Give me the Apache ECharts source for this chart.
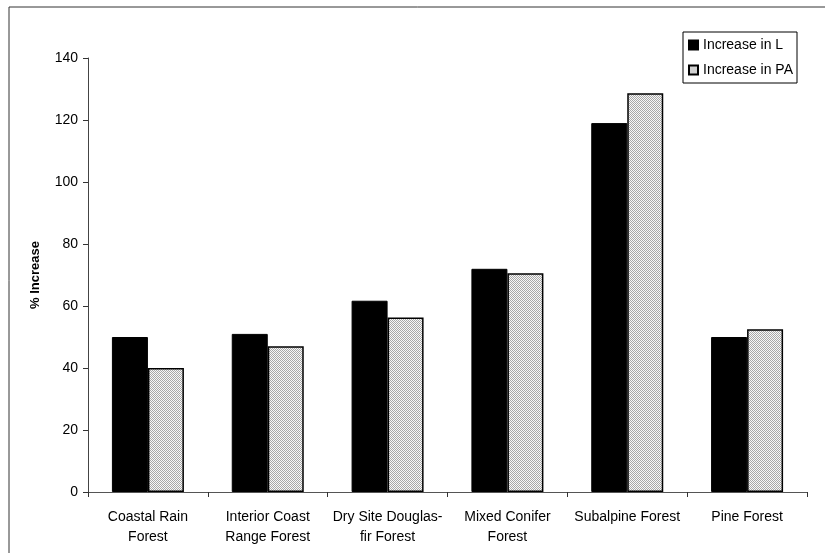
<!DOCTYPE html>
<html>
<head>
<meta charset="utf-8">
<script src="https://cdn.jsdelivr.net/npm/echarts@6/dist/echarts.min.js"></script>
<style>
  html, body { margin: 0; padding: 0; background: #fff; }
  #chart { width: 825px; height: 553px; }
</style>
</head>
<body>
<div id="chart"></div>
<script>
// Forest types along the x axis
const categories = [
  'Coastal Rain\nForest',
  'Interior Coast\nRange Forest',
  'Dry Site Douglas-\nfir Forest',
  'Mixed Conifer\nForest',
  'Subalpine Forest',
  'Pine Forest'
];
// Percent increase in L and in PA for each forest type
const increaseL  = [50, 51, 61.7, 72, 119, 50];
const increasePA = [40, 47, 56.3, 70.6, 128.6, 52.5];
const yTicks = [0, 20, 40, 60, 80, 100, 120, 140];

// Small dotted tile used as the fill of the PA bars
function dotPattern() {
  const c = document.createElement('canvas');
  c.width = 2; c.height = 2;
  const g = c.getContext('2d');
  g.fillStyle = '#f8f8f8';
  g.fillRect(0, 0, 2, 2);
  g.fillStyle = '#a8a8a8';
  g.fillRect(0, 0, 1, 1);
  g.fillRect(1, 1, 1, 1);
  return c;
}

const font = 'Liberation Sans, Arial, sans-serif';
const chart = echarts.init(document.getElementById('chart'), null, { renderer: 'canvas' });

chart.setOption({
  backgroundColor: '#fff',
  animation: false,
  graphic: [{
    type: 'rect',
    shape: { x: 9, y: 7, width: 830, height: 560 },
    style: { fill: 'none', stroke: '#333', lineWidth: 1 },
    silent: true,
    z: 0
  }],
  grid: { left: 88, right: 18, top: 58, bottom: 61, containLabel: false },
  legend: {
    orient: 'vertical',
    left: 683,
    top: 32,
    padding: [6, 4, 6, 5],
    itemGap: 11,
    itemWidth: 9,
    itemHeight: 9,
    icon: 'rect',
    backgroundColor: '#fff',
    borderColor: '#000',
    borderWidth: 1,
    textStyle: { fontFamily: font, fontSize: 14, color: '#000', padding: [0, 0, 0, 0] },
    data: ['Increase in L', 'Increase in PA']
  },
  xAxis: {
    type: 'category',
    data: categories,
    axisLine: { lineStyle: { color: '#555', width: 1 } },
    axisTick: { show: true, length: 5, lineStyle: { color: '#333' } },
    axisLabel: { fontFamily: font, fontSize: 14, color: '#000', lineHeight: 20, margin: 15, interval: 0 }
  },
  yAxis: {
    type: 'value',
    min: yTicks[0],
    max: yTicks[yTicks.length - 1],
    interval: 20,
    name: '% Increase',
    nameLocation: 'middle',
    nameGap: 46,
    nameTextStyle: { fontFamily: font, fontSize: 13, fontWeight: 'bold', color: '#000' },
    axisLine: { show: true, lineStyle: { color: '#444', width: 1 } },
    axisTick: { show: true, length: 5, lineStyle: { color: '#333' } },
    axisLabel: { fontFamily: font, fontSize: 14, color: '#000', margin: 10 },
    splitLine: { show: false }
  },
  series: [
    {
      name: 'Increase in L',
      type: 'bar',
      data: increaseL,
      barWidth: 36,
      barGap: '0%',
      itemStyle: { color: '#000', borderColor: '#000', borderWidth: 1 }
    },
    {
      name: 'Increase in PA',
      type: 'bar',
      data: increasePA,
      barWidth: 36,
      barGap: '0%',
      itemStyle: {
        color: { image: dotPattern(), repeat: 'repeat' },
        borderColor: '#000',
        borderWidth: 1.5
      }
    }
  ]
});
</script>
</body>
</html>
